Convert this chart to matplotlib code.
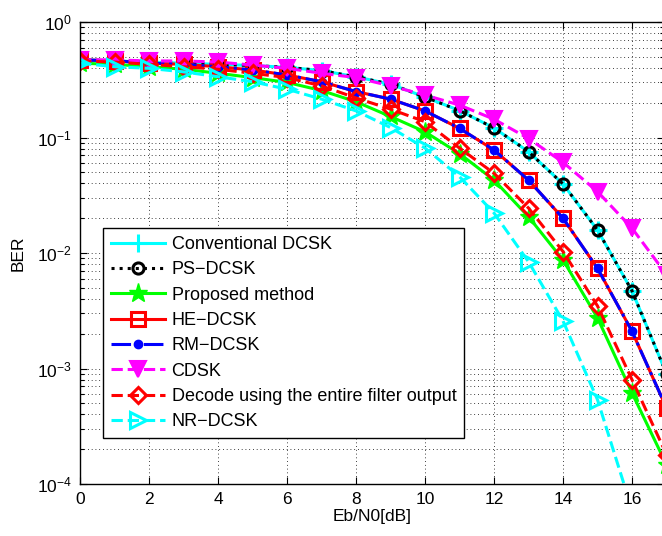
import matplotlib
matplotlib.use("Agg")
import matplotlib.pyplot as plt
from matplotlib.ticker import LogLocator, NullFormatter, FixedLocator

plt.rcParams['font.family'] = ['Liberation Sans', 'DejaVu Sans']
plt.rcParams['mathtext.fontset'] = 'custom'
plt.rcParams['mathtext.rm'] = 'Liberation Sans'

snr = list(range(0, 19))

conv_dcsk = [0.47, 0.46, 0.45, 0.44, 0.43, 0.42, 0.405, 0.38, 0.335, 0.29, 0.224,
             0.171, 0.121, 0.0753, 0.0396, 0.0158, 0.0047, 0.0009, 0.0001]
ps_dcsk = [0.47, 0.46, 0.45, 0.44, 0.43, 0.42, 0.405, 0.38, 0.335, 0.29, 0.224,
           0.171, 0.121, 0.0753, 0.0396, 0.0158, 0.0047, 0.0009, 0.0001]
proposed = [0.44, 0.43, 0.41, 0.39, 0.36, 0.33, 0.30, 0.255, 0.204, 0.152, 0.112,
            0.0725, 0.0428, 0.0206, 0.0087, 0.00274, 0.000614, 0.000147, 0.00002]
he_dcsk = [0.47, 0.462, 0.44, 0.43, 0.41, 0.384, 0.348, 0.304, 0.25, 0.215, 0.17,
           0.12, 0.078, 0.0428, 0.020, 0.00737, 0.0021, 0.000455, 0.00007]
rm_dcsk = [0.47, 0.462, 0.44, 0.43, 0.41, 0.384, 0.348, 0.304, 0.25, 0.215, 0.17,
           0.12, 0.078, 0.0428, 0.020, 0.00737, 0.0021, 0.000455, 0.00007]
cdsk = [0.47, 0.47, 0.46, 0.46, 0.45, 0.424, 0.397, 0.36, 0.33, 0.28, 0.233,
        0.191, 0.144, 0.098, 0.061, 0.034, 0.0164, 0.0065, 0.002]
decode_full = [0.46, 0.45, 0.43, 0.41, 0.39, 0.36, 0.33, 0.28, 0.22, 0.176, 0.137,
               0.081, 0.049, 0.0245, 0.0103, 0.00348, 0.0008, 0.00018, 0.00003]
nr_dcsk = [0.44, 0.41, 0.397, 0.37, 0.336, 0.304, 0.262, 0.215, 0.17, 0.122, 0.081,
           0.0458, 0.0222, 0.0084, 0.00258, 0.000537, 0.00006, 0.000005, 0.0000004]

labels = ['Conventional DCSK', 'PS\u2212DCSK', 'Proposed method', 'HE\u2212DCSK',
          'RM\u2212DCSK', 'CDSK', 'Decode using the entire filter output', 'NR\u2212DCSK']
xticks = [0, 2, 4, 6, 8, 10, 12, 14, 16]

FS = 12.5

fig = plt.figure(figsize=(6.62, 5.36), dpi=100)
ax = fig.add_axes([80/662, 52/536, 584/662, 462/536])

lw = 2.2
ax.semilogy(snr, conv_dcsk, color='cyan', ls='-', lw=lw, marker='+', ms=13, mew=2.2, label=labels[0])
ax.semilogy(snr, ps_dcsk, color='black', ls=':', lw=lw, marker='o', ms=8, mew=2.2,
            mfc='none', label=labels[1])
ax.semilogy(snr, proposed, color=(0, 1, 0), ls='-', lw=lw, marker='*', ms=14, mew=1,
            label=labels[2])
ax.semilogy(snr, he_dcsk, color='red', ls='-', lw=lw, marker='s', ms=10, mew=2.2,
            mfc='none', label=labels[3])
ax.semilogy(snr, rm_dcsk, color='blue', ls='-.', lw=lw, marker='o', ms=6, mew=1,
            label=labels[4])
ax.semilogy(snr, cdsk, color='magenta', ls='--', lw=lw, marker='v', ms=11, mew=1.5,
            label=labels[5])
ax.semilogy(snr, decode_full, color='red', ls='--', lw=lw, marker='D', ms=8, mew=2.2,
            mfc='none', label=labels[6])
ax.semilogy(snr, nr_dcsk, color='cyan', ls='--', lw=lw, marker='>', ms=11, mew=2.2,
            mfc='none', label=labels[7])

ax.set_xlim(0, 584/34.5)
ax.set_ylim(1e-4, 1)
ax.xaxis.set_major_locator(FixedLocator(xticks))
ax.yaxis.set_major_locator(LogLocator(base=10, numticks=10))
ax.yaxis.set_minor_locator(LogLocator(base=10, subs=range(2, 10), numticks=10))
ax.yaxis.set_minor_formatter(NullFormatter())

gridstyle = dict(color='black', linestyle=(0, (1, 3.5)), linewidth=0.6)
ax.grid(True, which='major', axis='both', **gridstyle)
ax.grid(True, which='minor', axis='y', **gridstyle)

ax.tick_params(which='both', direction='in', top=True, right=True, labelsize=FS,
               width=0.8, colors='black')
ax.tick_params(which='major', length=5, pad=6)
ax.tick_params(which='minor', length=3)
for s in ax.spines.values():
    s.set_linewidth(1.0)

ax.set_xlabel('Eb/N0[dB]', fontsize=FS, labelpad=1)
ax.set_ylabel('BER', fontsize=FS, labelpad=8)

leg = ax.legend(loc='upper left', bbox_to_anchor=(103/662, 1 - 228/536),
                bbox_transform=fig.transFigure, fontsize=13, numpoints=1,
                handlelength=3.0, handletextpad=0.35, labelspacing=0.46,
                borderpad=0.45, borderaxespad=0, fancybox=False, framealpha=1,
                edgecolor='black')
leg.get_frame().set_linewidth(1.0)

fig.savefig('out.png', dpi=100)
